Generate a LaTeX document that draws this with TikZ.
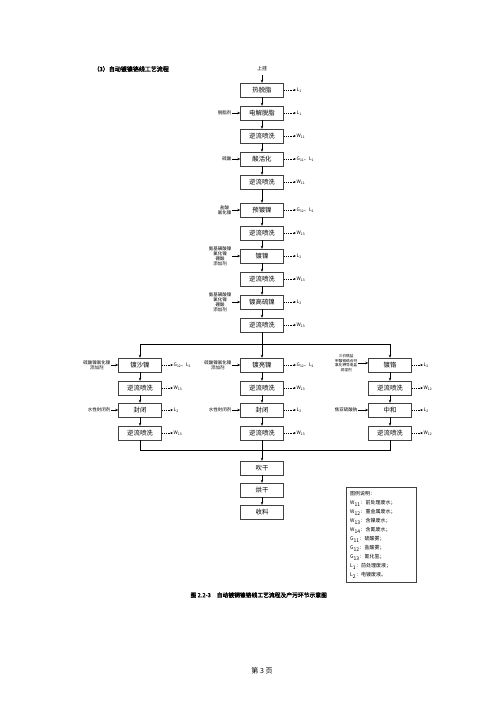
\documentclass[tikz,border=0pt]{standalone}
\usepackage{fontspec}
\setmainfont{Noto Sans CJK SC}[AutoFakeBold=2]
\usetikzlibrary{arrows.meta}

\begin{document}
\begin{tikzpicture}[x=1pt, y=-1pt,
  box/.style={draw=black!75, line width=0.45pt, minimum width=43pt, minimum height=14pt, inner sep=0.5pt, font=\fontsize{6.4}{7}\selectfont},
  inlbl/.style={anchor=east, align=center, inner sep=0.5pt, font=\fontsize{4.5}{5.1}\selectfont},
  outlbl/.style={anchor=west, inner sep=0.5pt, font=\fontsize{4.8}{5.2}\selectfont},
  flow/.style={-{Stealth[length=3pt,width=2.4pt]}, line width=0.45pt},
  waste/.style={-{Stealth[length=2.6pt,width=2.2pt]}, line width=0.45pt, dash pattern=on 1.2pt off 1pt},
  link/.style={line width=0.45pt}]
  \useasboundingbox (0,0) rectangle (500,707);
  \node[anchor=west, font=\fontsize{6}{7}\selectfont\bfseries] (title) at (90,69) {（3）自动镀镍铬线工艺流程};

  % main line
  \node[font=\fontsize{5}{6}\selectfont] (hang) at (262,69) {上挂};
  \node[box] (hot) at (262,90) {热脱脂};
  \node[box] (elec) at (262,113) {电解脱脂};
  \node[box] (rA) at (262,136) {逆流喷洗};
  \node[box] (act) at (262,159) {酸活化};
  \node[box] (rB) at (262,182) {逆流喷洗};
  \node[box] (pre) at (262,210) {预镀镍};
  \node[box] (rC) at (262,233) {逆流喷洗};
  \node[box] (ni) at (262,256) {镀镍};
  \node[box] (rD) at (262,279) {逆流喷洗};
  \node[box] (hs) at (262,302) {镀高硫镍};
  \node[box] (rE) at (262,325) {逆流喷洗};

  % inputs
  \node[inlbl] (inElec) at (232,113) {脱脂剂};
  \node[inlbl] (inAct) at (232,159) {硫酸};
  \node[inlbl] (inPre) at (232,210) {盐酸\\氯化镍};
  \node[inlbl] (inNi) at (232,256) {氨基磺酸镍\\氯化镍\\硼酸\\添加剂};
  \node[inlbl] (inHs) at (232,302) {氨基磺酸镍\\氯化镍\\硼酸\\添加剂};

  % outputs
  \node[outlbl] (oHot) at (296,90) {L\textsubscript{1}};
  \node[outlbl] (oElec) at (296,113) {L\textsubscript{1}};
  \node[outlbl] (oRA) at (296,136) {W\textsubscript{11}};
  \node[outlbl] (oAct) at (296,159) {G\textsubscript{11}、L\textsubscript{1}};
  \node[outlbl] (oRB) at (296,182) {W\textsubscript{11}};
  \node[outlbl] (oPre) at (296,210) {G\textsubscript{12}、L\textsubscript{2}};
  \node[outlbl] (oRC) at (296,233) {W\textsubscript{13}};
  \node[outlbl] (oNi) at (296,256) {L\textsubscript{2}};
  \node[outlbl] (oRD) at (296,279) {W\textsubscript{13}};
  \node[outlbl] (oHs) at (296,302) {L\textsubscript{2}};
  \node[outlbl] (oRE) at (296,325) {W\textsubscript{13}};

  \draw[flow] (hang) -- (hot);
  \draw[flow] (hot) -- (elec);
  \draw[flow] (elec) -- (rA);
  \draw[flow] (rA) -- (act);
  \draw[flow] (act) -- (rB);
  \draw[flow] (rB) -- (pre);
  \draw[flow] (pre) -- (rC);
  \draw[flow] (rC) -- (ni);
  \draw[flow] (ni) -- (rD);
  \draw[flow] (rD) -- (hs);
  \draw[flow] (hs) -- (rE);

  \draw[flow] (inElec) -- (elec);
  \draw[flow] (inAct) -- (act);
  \draw[flow] (inPre) -- (pre);
  \draw[flow] (inNi) -- (ni);
  \draw[flow] (inHs) -- (hs);

  \draw[waste] (hot) -- (oHot);
  \draw[waste] (elec) -- (oElec);
  \draw[waste] (rA) -- (oRA);
  \draw[waste] (act) -- (oAct);
  \draw[waste] (rB) -- (oRB);
  \draw[waste] (pre) -- (oPre);
  \draw[waste] (rC) -- (oRC);
  \draw[waste] (ni) -- (oNi);
  \draw[waste] (rD) -- (oRD);
  \draw[waste] (hs) -- (oHs);
  \draw[waste] (rE) -- (oRE);

  % three branches
  \node[box] (lNi) at (140,365) {镀沙镍};
  \node[box] (lR1) at (140,388) {逆流喷洗};
  \node[box] (lSeal) at (140,410) {封闭};
  \node[box] (lR2) at (140,433) {逆流喷洗};
  \node[box] (mNi) at (262,365) {镀亮镍};
  \node[box] (mR1) at (262,388) {逆流喷洗};
  \node[box] (mSeal) at (262,410) {封闭};
  \node[box] (mR2) at (262,433) {逆流喷洗};
  \node[box] (cr) at (390,365) {镀铬};
  \node[box] (cR1) at (390,388) {逆流喷洗};
  \node[box] (neu) at (390,410) {中和};
  \node[box] (cR2) at (390,433) {逆流喷洗};

  \node[inlbl] (inL) at (111,365) {硫酸镍氯化镍\\添加剂};
  \node[inlbl] (inLS) at (111,410) {水性封闭剂};
  \node[inlbl] (inM) at (232,365) {硫酸镍氯化镍\\添加剂};
  \node[inlbl] (inMS) at (232,410) {水性封闭剂};
  \node[inlbl, font=\fontsize{3.7}{4.4}\selectfont] (inCr) at (358,363) {三价铬盐\\甲酸铵络合剂\\氯化钾导电盐\\润湿剂};
  \node[inlbl] (inNeu) at (358,410) {焦亚硫酸钠};

  \node[outlbl] (oL) at (173,365) {G\textsubscript{12}、L\textsubscript{2}};
  \node[outlbl] (oLR1) at (173,388) {W\textsubscript{13}};
  \node[outlbl] (oLS) at (173,410) {L\textsubscript{2}};
  \node[outlbl] (oLR2) at (173,433) {W\textsubscript{13}};
  \node[outlbl] (oM) at (296,365) {G\textsubscript{12}、L\textsubscript{2}};
  \node[outlbl] (oMR1) at (296,388) {W\textsubscript{13}};
  \node[outlbl] (oMS) at (296,410) {L\textsubscript{2}};
  \node[outlbl] (oMR2) at (296,433) {W\textsubscript{13}};
  \node[outlbl] (oCr) at (423,365) {L\textsubscript{2}};
  \node[outlbl] (oCR1) at (423,388) {W\textsubscript{12}};
  \node[outlbl] (oNeu) at (423,410) {L\textsubscript{2}};
  \node[outlbl] (oCR2) at (423,433) {W\textsubscript{12}};

  \coordinate (split) at (262,344);
  \draw[link] (rE) -- (split);
  \draw[link] (lNi |- split) -- (cr |- split);
  \draw[flow] (lNi |- split) -- (lNi);
  \draw[flow] (split) -- (mNi);
  \draw[flow] (cr |- split) -- (cr);

  \draw[flow] (lNi) -- (lR1);
  \draw[flow] (lR1) -- (lSeal);
  \draw[flow] (lSeal) -- (lR2);
  \draw[flow] (mNi) -- (mR1);
  \draw[flow] (mR1) -- (mSeal);
  \draw[flow] (mSeal) -- (mR2);
  \draw[flow] (cr) -- (cR1);
  \draw[flow] (cR1) -- (neu);
  \draw[flow] (neu) -- (cR2);

  \draw[flow] (inL) -- (lNi);
  \draw[flow] (inLS) -- (lSeal);
  \draw[flow] (inM) -- (mNi);
  \draw[flow] (inMS) -- (mSeal);
  \draw[flow] (inCr) -- (inCr -| cr.west);
  \draw[flow] (inNeu) -- (neu);

  \draw[waste] (lNi) -- (oL);
  \draw[waste] (lR1) -- (oLR1);
  \draw[waste] (lSeal) -- (oLS);
  \draw[waste] (lR2) -- (oLR2);
  \draw[waste] (mNi) -- (oM);
  \draw[waste] (mR1) -- (oMR1);
  \draw[waste] (mSeal) -- (oMS);
  \draw[waste] (mR2) -- (oMR2);
  \draw[waste] (cr) -- (oCr);
  \draw[waste] (cR1) -- (oCR1);
  \draw[waste] (neu) -- (oNeu);
  \draw[waste] (cR2) -- (oCR2);

  % merge and finish
  \node[box] (dry) at (262,468) {吹干};
  \node[box] (bake) at (262,490) {烘干};
  \node[box] (coll) at (262,512) {收料};
  \coordinate (merge) at (262,450);
  \draw[link] (lR2) -- (lR2 |- merge) -- (cR2 |- merge) -- (cR2);
  \draw[flow] (mR2) -- (dry);
  \draw[flow] (dry) -- (bake);
  \draw[flow] (bake) -- (coll);

  % legend
  \draw[black!75, line width=0.45pt] (346,487) rectangle (416,582);
  \node[anchor=north west, align=left, inner sep=0pt, font=\fontsize{5}{9}\selectfont] (legend) at (350,491)
    {图例说明：\\W\textsubscript{11}：前处理废水；\\W\textsubscript{12}：重金属废水；\\W\textsubscript{13}：含镍废水；\\W\textsubscript{14}：含氰废水；\\G\textsubscript{11}：硫酸雾；\\G\textsubscript{12}：盐酸雾；\\G\textsubscript{13}：氰化氢；\\L\textsubscript{1}：前处理废液；\\L\textsubscript{2}：电镀废液。};

  \node[anchor=west, font=\fontsize{5.8}{7}\selectfont\bfseries] (caption) at (187,595) {图 2.2-3\quad 自动镀铜镍铬线工艺流程及产污环节示意图};
  \node[font=\fontsize{7}{8}\selectfont] (page) at (262,671) {第 3 页};
\end{tikzpicture}
\end{document}
